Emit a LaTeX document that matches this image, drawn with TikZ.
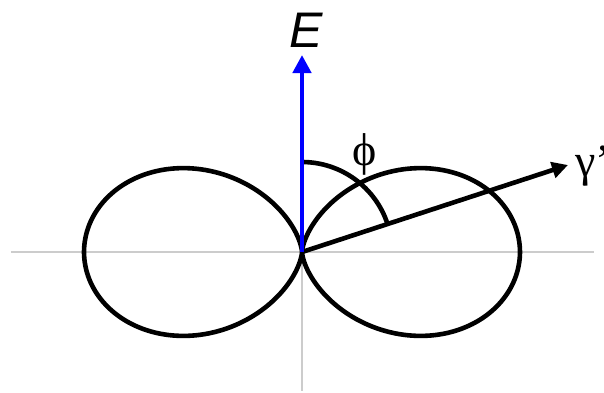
\documentclass[tikz,border=0pt]{standalone}
\usepackage{fontspec}
\setmainfont{Liberation Serif}
\newfontfamily\sansf{Liberation Sans}
\usetikzlibrary{arrows.meta}
\begin{document}
\begin{tikzpicture}[x=1pt,y=1pt,
  axis/.style={draw=black!20, line width=1.5pt},
  curve/.style={draw=black, line width=4.6pt},
  lbl/.style={inner sep=0pt, color=black, text=black}]
\useasboundingbox (-302,-140) rectangle (302,252);
\coordinate (O) at (0,0);
\coordinate (xl) at (-291,0);
\coordinate (xr) at (292,0);
\coordinate (yb) at (0,-139);
\coordinate (Etip) at (0,197);
\coordinate (Gtip) at (266,87);
% labels
\node[lbl, font=\sansf\itshape\fontsize{50}{54}\selectfont] (E) at (4,222) {E};
\node[lbl, anchor=west, font=\fontsize{46}{50}\selectfont] (g) at (273,86) {γ'};
\node[lbl, font=\fontsize{46}{50}\selectfont] (phi) at (63,98) {ϕ};
% axes
\draw[axis] (xl) -- (xr);
\draw[axis] (O) -- (yb);
% dipole lobes r = a sin^2(theta)
\draw[curve, line join=round] plot[domain=0:360, samples=240, smooth, variable=\t]
  ({218*sin(\t)*sin(\t)*sin(\t)},{218*sin(\t)*sin(\t)*cos(\t)});
% gamma' arrow
\draw[curve, -{Triangle[width=16pt,length=16pt]}] (O) -- (Gtip);
% phi arc
\draw[curve] (90:90) arc[start angle=90, end angle=18.1, radius=90];
% E field arrow
\draw[draw=blue, fill=blue, line width=4.6pt, -{Triangle[width=18pt,length=18pt]}] (O) -- (Etip);
\end{tikzpicture}
\end{document}
